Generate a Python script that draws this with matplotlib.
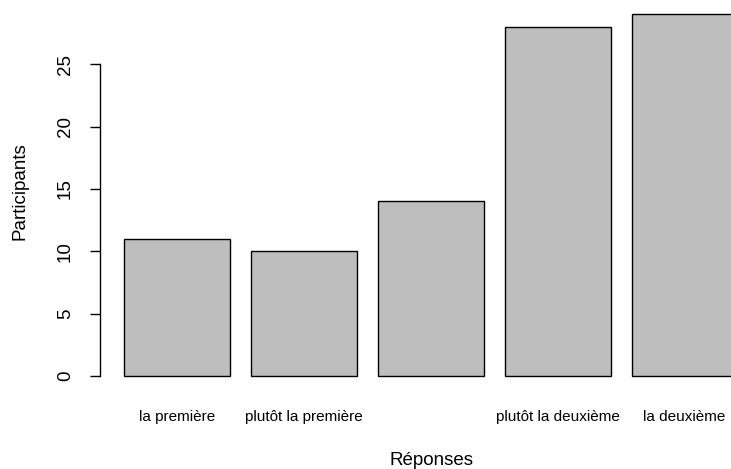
import matplotlib
matplotlib.use("Agg")
import matplotlib.pyplot as plt

categories = ["la première", "plutôt la première", "", "plutôt la deuxième", "la deuxième"]
values = [11, 10, 14, 28, 29]
yticks = [0, 5, 10, 15, 20, 25]

plt.rcParams['font.family'] = ['Liberation Sans', 'DejaVu Sans']

W, H = 731, 469
fig = plt.figure(figsize=(W / 100, H / 100), dpi=100)
left_px, right_px = 99.6, 762.0
bot_px, top_px = 390.5, 0.0
ax = fig.add_axes([left_px / W, (H - bot_px) / H, (right_px - left_px) / W, (bot_px - top_px) / H])

width = 1.0
space = 0.2
centers = [space + width / 2 + i * (width + space) for i in range(len(values))]
ax.bar(centers, values, width=width, color="#BEBEBE", edgecolor="black", linewidth=1.0)

xmin, xmax = space, centers[-1] + width / 2
xr = xmax - xmin
ax.set_xlim(xmin - 0.04 * xr, xmax + 0.04 * xr)
ymax = max(values)
ax.set_ylim(-0.04 * ymax, ymax * 1.04)

for s in ["top", "right", "bottom"]:
    ax.spines[s].set_visible(False)
ax.spines["left"].set_bounds(0, 25)
ax.spines["left"].set_linewidth(1.0)

ax.set_yticks(yticks)
ax.set_yticklabels([str(t) for t in yticks], rotation=90, va="center", fontsize=13.5)
ax.tick_params(axis="y", length=7.5, width=1.0, pad=11)

ax.set_xticks(centers)
ax.set_xticklabels(categories, fontsize=11)
ax.tick_params(axis="x", length=0, pad=14)

fig.text(20 / W, 1 - 191 / H, "Participants", rotation=90, ha="center", va="center", fontsize=13.5)
fig.text(431.5 / W, 1 - 460 / H, "Réponses", ha="center", va="center", fontsize=13.5)

fig.savefig("out.png", dpi=100)
